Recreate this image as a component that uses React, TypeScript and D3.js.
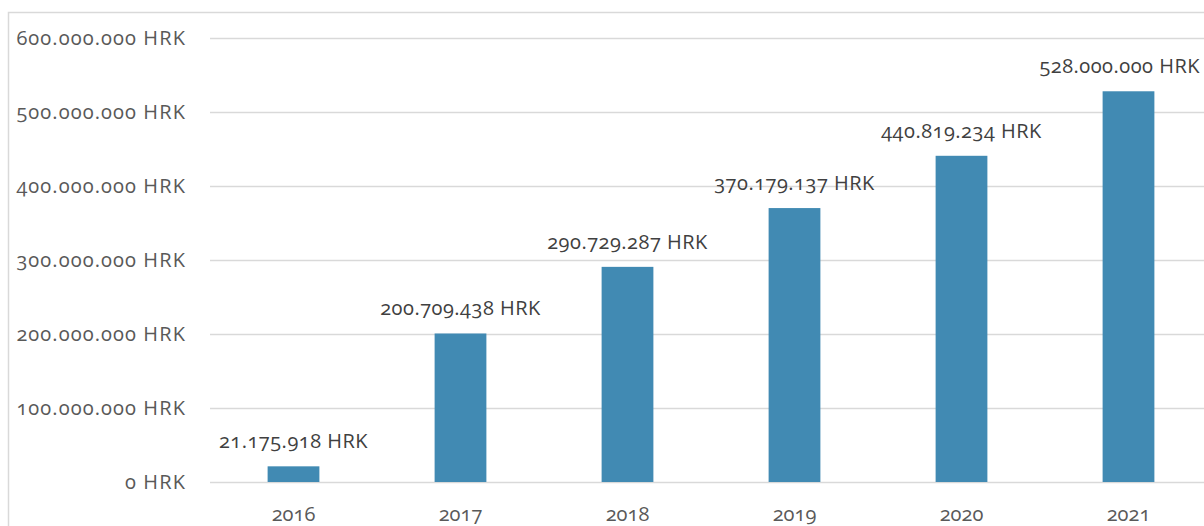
import React, { useEffect, useRef } from 'react';
import * as d3 from 'd3';

const years = ['2016', '2017', '2018', '2019', '2020', '2021'];
const amounts = [21175918, 200709438, 290729287, 370179137, 440819234, 528000000];
const yTicks = [0, 100000000, 200000000, 300000000, 400000000, 500000000, 600000000];

const W = 1204;
const H = 526;

const fmt = (v: number) => {
  const s = d3.format(',')(v).replace(/,/g, '.');
  return `${s} HRK`;
};

const App: React.FC = () => {
  const svgRef = useRef<SVGSVGElement>(null);

  useEffect(() => {
    if (!svgRef.current) return;
    const svg = d3.select(svgRef.current);
    svg.selectAll('*').remove();

    const font = '"Open Sans", Lato, sans-serif';

    // outer chart frame (runs off the right and bottom)
    svg.append('rect')
      .attr('x', 8.5)
      .attr('y', 12.5)
      .attr('width', W + 20)
      .attr('height', H + 20)
      .attr('fill', '#fff')
      .attr('stroke', '#d9d9d9')
      .attr('stroke-width', 1.5);

    const plotLeft = 210;
    const band = 167;

    const x = d3.scaleBand<string>()
      .domain(years)
      .range([plotLeft, plotLeft + band * years.length])
      .paddingInner(0.69)
      .paddingOuter(0.345);

    const y = d3.scaleLinear()
      .domain([0, 600000000])
      .range([482, 38]);

    // gridlines
    svg.append('g')
      .selectAll('line')
      .data(yTicks)
      .enter().append('line')
      .attr('x1', plotLeft)
      .attr('x2', W)
      .attr('y1', d => Math.round(y(d)) + 0.5)
      .attr('y2', d => Math.round(y(d)) + 0.5)
      .attr('stroke', '#d9d9d9')
      .attr('stroke-width', 1.5);

    // y tick labels
    svg.append('g')
      .selectAll('text')
      .data(yTicks)
      .enter().append('text')
      .attr('x', 186)
      .attr('y', d => y(d) + 7)
      .attr('text-anchor', 'end')
      .attr('fill', '#595959')
      .attr('font-family', font)
      .attr('font-size', 20)
      .attr('letter-spacing', 1.1)
      .style('font-variant-numeric', 'oldstyle-nums')
      .text(d => fmt(d));

    // bars
    svg.append('g')
      .selectAll('rect')
      .data(amounts)
      .enter().append('rect')
      .attr('x', (d, i) => x(years[i]) as number)
      .attr('width', x.bandwidth())
      .attr('y', d => y(d))
      .attr('height', d => y(0) - y(d))
      .attr('fill', '#418ab3');

    // value labels (pushed back inside the frame when they'd spill over the right edge)
    svg.append('g')
      .selectAll('text')
      .data(amounts)
      .enter().append('text')
      .attr('x', (d, i) => (x(years[i]) as number) + x.bandwidth() / 2)
      .attr('y', d => y(d) - 18)
      .attr('text-anchor', 'middle')
      .attr('fill', '#404040')
      .attr('font-family', font)
      .attr('font-size', 20)
      .attr('letter-spacing', 0.5)
      .style('font-variant-numeric', 'oldstyle-nums')
      .text(d => fmt(d))
      .each(function () {
        const el = this as SVGTextElement;
        const len = el.getComputedTextLength();
        const cx = +el.getAttribute('x')!;
        if (cx + len / 2 > W - 4) {
          d3.select(el).attr('text-anchor', 'end').attr('x', W - 4);
        }
      });

    // category labels
    svg.append('g')
      .selectAll('text')
      .data(years)
      .enter().append('text')
      .attr('x', d => (x(d) as number) + x.bandwidth() / 2)
      .attr('y', 521)
      .attr('text-anchor', 'middle')
      .attr('fill', '#595959')
      .attr('font-family', font)
      .attr('font-size', 20)
      .style('font-variant-numeric', 'oldstyle-nums')
      .text(d => d);
  }, []);

  return (
    <div style={{ position: 'fixed', left: 0, top: 0, width: W, height: H, overflow: 'hidden', background: '#fff' }}>
      <svg ref={svgRef} width={W} height={H} style={{ display: 'block' }} />
    </div>
  );
};

export default App;
